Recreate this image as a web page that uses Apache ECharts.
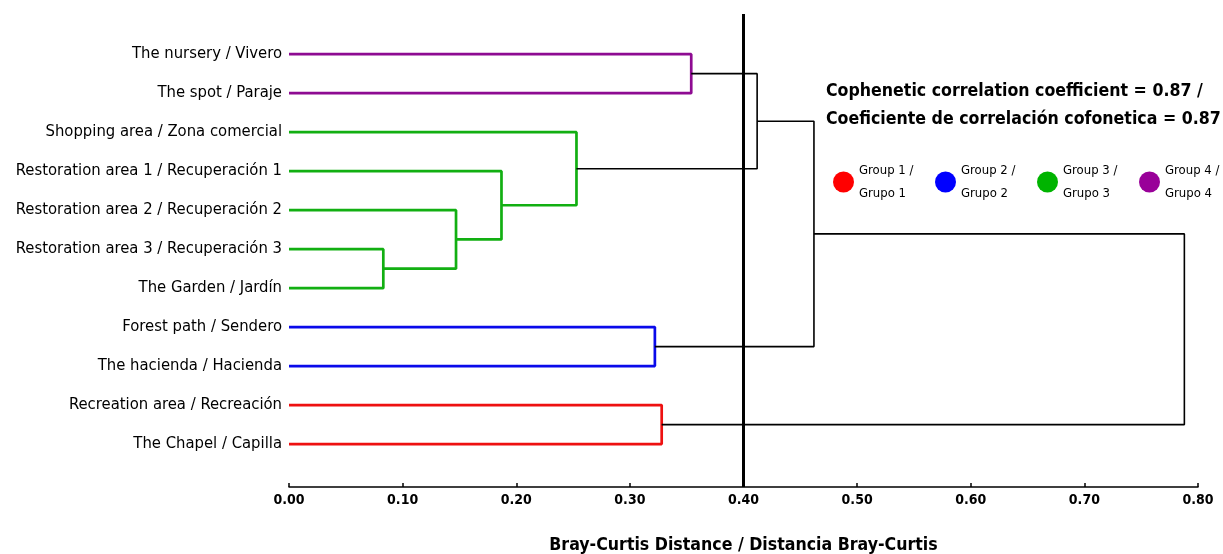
<!DOCTYPE html>
<html><head><meta charset="utf-8">
<script src="https://cdn.jsdelivr.net/npm/echarts@6/dist/echarts.min.js"></script>
<style>html,body{margin:0;padding:0;background:#fff}#c{width:1223px;height:554px}</style>
</head><body><div id="c"></div>
<script>
var leaves = ["The nursery / Vivero","The spot / Paraje","Shopping area / Zona comercial","Restoration area 1 / Recuperación 1","Restoration area 2 / Recuperación 2","Restoration area 3 / Recuperación 3","The Garden / Jardín","Forest path / Sendero","The hacienda / Hacienda","Recreation area / Recreación","The Chapel / Capilla"];
var leafGroup = [3,3,2,2,2,2,2,1,1,0,0];
var groupNames = ["Group 1 /\nGrupo 1","Group 2 /\nGrupo 2","Group 3 /\nGrupo 3","Group 4 /\nGrupo 4"];
var lineColors = ["#EE1111","#0A0AEA","#12AF12","#8E0B92"];
var legendColors = ["#FF0000","#0000FF","#00B400","#990099"];
// merges: [childA, childB, height]; new nodes get ids 11, 12, ...
var merges = [[0,1,0.354],[5,6,0.083],[4,12,0.147],[3,13,0.187],[2,14,0.253],[7,8,0.322],[9,10,0.328],[11,15,0.412],[18,16,0.462],[19,17,0.788]];
var xTicks = [0,0.1,0.2,0.3,0.4,0.5,0.6,0.7,0.8];
var threshold = 0.40;
var FONT = "'DejaVu Sans Condensed',sans-serif";
var Y_MIN = -1.03, Y_MAX = 11.1;

var nodes = leaves.map(function(n,i){return {y:i,h:0,g:leafGroup[i]};});
var series = [];
merges.forEach(function(m){
  var a = nodes[m[0]], b = nodes[m[1]], h = m[2];
  var g = (a.g !== null && a.g === b.g) ? a.g : null;
  nodes.push({y:(a.y+b.y)/2,h:h,g:g});
  series.push({
    type:'line', name: g===null ? 'link' : groupNames[g], symbol:'none', silent:true,
    lineStyle:{color: g===null ? '#000' : lineColors[g], width: g===null ? 1.6 : 2.7},
    itemStyle:{color: g===null ? '#000' : legendColors[g]},
    data:[[a.h,a.y],[h,a.y],[h,b.y],[b.h,b.y]], animation:false, z:3
  });
});
series.push({type:'line',name:'threshold',symbol:'none',silent:true,animation:false,
  lineStyle:{color:'#000',width:3},data:[[threshold,Y_MIN],[threshold,Y_MAX]],z:4});

var chart = echarts.init(document.getElementById('c'),null,{renderer:'canvas'});
chart.setOption({
  backgroundColor:'#fff',
  animation:false,
  textStyle:{fontFamily:FONT},
  title:{text:"Cophenetic correlation coefficient = 0.87 /\nCoeficiente de correlación cofonetica = 0.87",
    left:826,top:77,padding:0,textStyle:{fontFamily:FONT,fontSize:17.6,fontWeight:'bold',color:'#000',lineHeight:28}},
  legend:{left:828,top:154,width:420,icon:'circle',itemWidth:21,itemHeight:21,itemGap:14,
    data:groupNames.map(function(n,i){return {name:n,itemStyle:{color:legendColors[i]}};}),
    textStyle:{fontFamily:FONT,fontSize:13,color:'#000',lineHeight:23,width:62}},
  grid:{left:289,right:25,top:14,bottom:67,outerBoundsMode:'none',containLabel:false},
  xAxis:{type:'value',min:0,max:0.8,interval:0.1,position:'bottom',
    axisLine:{onZero:false,lineStyle:{color:'#000',width:1.5}},
    axisTick:{inside:true,length:4,lineStyle:{color:'#000',width:1.5}},
    splitLine:{show:false},
    axisLabel:{color:'#000',fontFamily:FONT,fontWeight:'bold',fontSize:14,margin:6,
      formatter:function(v){return v.toFixed(2);}},
    name:"Bray-Curtis Distance / Distancia Bray-Curtis",nameLocation:'middle',nameGap:49,
    nameTextStyle:{color:'#000',fontFamily:FONT,fontWeight:'bold',fontSize:17.6}},
  yAxis:{type:'value',inverse:true,min:Y_MIN,max:Y_MAX,
    axisLine:{show:false},axisTick:{show:false},splitLine:{show:false},
    axisLabel:{color:'#000',fontFamily:FONT,fontSize:16.5,margin:7,
      customValues:leaves.map(function(n,i){return i;}),
      formatter:function(v){var i=Math.round(v);return (Math.abs(v-i)<1e-6 && i>=0 && i<leaves.length)?leaves[i]:'';}}},
  series:series
});
</script></body></html>
